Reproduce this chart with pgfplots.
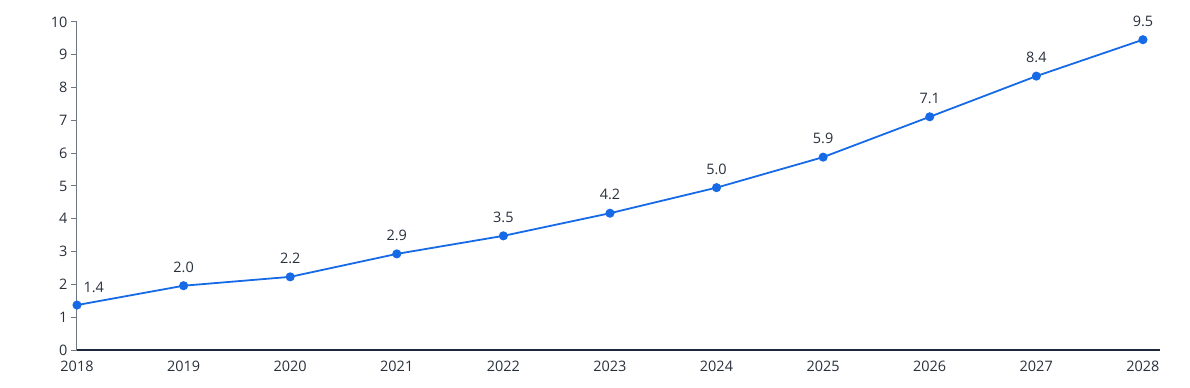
\documentclass[border=0pt]{standalone}
\usepackage{pgfplots}
\pgfplotsset{compat=1.18}
\usepackage{fontspec}
\setmainfont{Open Sans}
\definecolor{lineblue}{RGB}{22,106,230}
\definecolor{txt}{RGB}{40,48,60}
\definecolor{axdark}{RGB}{28,40,58}
\definecolor{axgrey}{RGB}{110,120,130}
\begin{document}
\begin{tikzpicture}
\useasboundingbox (-77bp,-38bp) rectangle (1113bp,350bp);
\begin{axis}[
  at={(0,0)}, anchor=south west,
  scale only axis,
  width=1083bp, height=328bp,
  xmin=2018, xmax=2028.16,
  ymin=0, ymax=10,
  axis x line=bottom, axis y line=left,
  axis line style={-},
  x axis line style={axdark, line width=1.6bp},
  y axis line style={axgrey, line width=1bp},
  xtick={2018,...,2028},
  ytick={0,...,10},
  x tick label style={/pgf/number format/1000 sep={}},
  xticklabel style={yshift=-2bp},
  major x tick style={draw=none},
  major y tick style={axgrey, line width=1bp},
  tick align=outside,
  major tick length=6bp,
  ticklabel style={font=\fontsize{14.5}{17}\selectfont, text=txt},
  /pgf/number format/assume math mode=true,
  clip=false,
]
\addplot[lineblue, line width=1.8bp, mark=*, mark size=3.6bp,
  mark options={fill=lineblue, draw=lineblue},
  nodes near coords, point meta=explicit symbolic,
  every node near coord/.append style={font=\fontsize{14.5}{17}\selectfont, text=txt, anchor=south, yshift=9bp}]
table[meta=lab] {
x y lab
2018 1.37 {}
2019 1.96 2.0
2020 2.23 2.2
2021 2.93 2.9
2022 3.48 3.5
2023 4.17 4.2
2024 4.95 5.0
2025 5.88 5.9
2026 7.11 7.1
2027 8.35 8.4
2028 9.46 9.5
};
\addplot[draw=none, mark=none,
  nodes near coords, point meta=explicit symbolic,
  every node near coord/.append style={font=\fontsize{14.5}{17}\selectfont, text=txt, anchor=south west, xshift=3bp, yshift=9bp}]
table[meta=lab] {
x y lab
2018 1.37 1.4
};
\end{axis}
\end{tikzpicture}
\end{document}
